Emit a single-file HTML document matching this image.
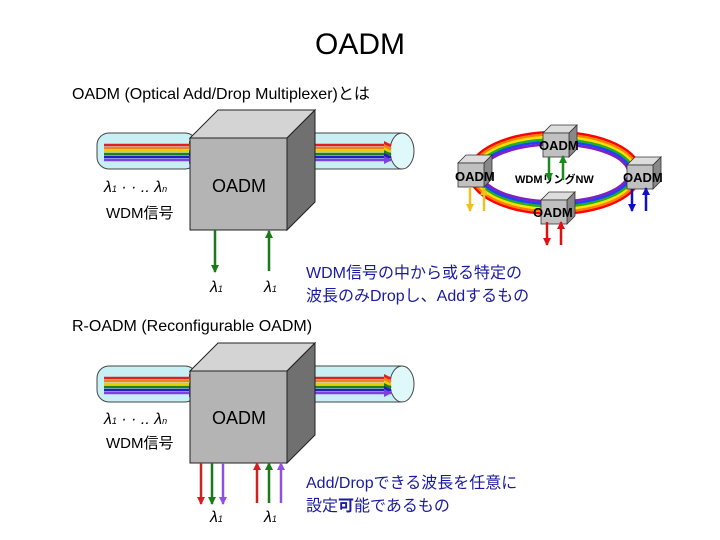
<!DOCTYPE html>
<html><head><meta charset="utf-8"><style>
body{margin:0;background:#fff}
svg{display:block}
text{font-family:"Liberation Sans","Noto Sans CJK JP",sans-serif}
</style></head><body>
<svg width="720" height="540" viewBox="0 0 720 540" xmlns="http://www.w3.org/2000/svg">
<defs>
<marker id="ah" markerWidth="8" markerHeight="8" refX="7" refY="4" orient="auto" markerUnits="userSpaceOnUse"><path d="M0,0 L8,4 L0,8z" fill="context-stroke"/></marker>
<g id="cube">
<polygon points="0,28 97,28 125,0 28,0" fill="#d4d4d4" stroke="#222"/>
<polygon points="97,28 125,0 125,92 97,120" fill="#707070" stroke="#222"/>
<rect x="0" y="28" width="97" height="92" fill="#b4b4b4" stroke="#222"/>
</g>
<g id="sc">
<polygon points="0,8 26,8 34,0 8,0" fill="#ddd" stroke="#333" stroke-width="0.8"/>
<polygon points="26,8 34,0 34,24 26,32" fill="#888" stroke="#333" stroke-width="0.8"/>
<rect x="0" y="8" width="26" height="24" fill="#c0c0c0" stroke="#333" stroke-width="0.8"/>
</g>
</defs>
<text x="360" y="54" font-size="30" text-anchor="middle">OADM</text>
<text x="72" y="99" font-size="16">OADM (Optical Add/Drop Multiplexer)とは</text>

<rect x="97" y="133" width="100" height="36" rx="12" fill="#c8f0f4" stroke="#444"/>
<rect x="290" y="133" width="112" height="36" fill="#c8f0f4" stroke="none"/>
<path d="M302,133 L402,133 M302,169 L402,169" stroke="#444"/>
<ellipse cx="302" cy="151" rx="12" ry="18" fill="#c8f0f4" stroke="#444"/>
<ellipse cx="402" cy="151" rx="12" ry="18" fill="#dff8fa" stroke="#444"/>
<g stroke-width="2.5" marker-end="url(#ah)">
<line x1="104" y1="145" x2="196" y2="145" stroke="#e02020"/><line x1="104" y1="148" x2="196" y2="148" stroke="#f08020"/><line x1="104" y1="151" x2="196" y2="151" stroke="#e8d000"/><line x1="104" y1="154" x2="196" y2="154" stroke="#208020"/><line x1="104" y1="157" x2="196" y2="157" stroke="#2020c0"/><line x1="104" y1="160" x2="196" y2="160" stroke="#8040e0"/>
<line x1="305" y1="145" x2="391" y2="145" stroke="#e02020"/><line x1="305" y1="148" x2="391" y2="148" stroke="#f08020"/><line x1="305" y1="151" x2="391" y2="151" stroke="#e8d000"/><line x1="305" y1="154" x2="391" y2="154" stroke="#208020"/><line x1="305" y1="157" x2="391" y2="157" stroke="#2020c0"/><line x1="305" y1="160" x2="391" y2="160" stroke="#8040e0"/>
</g>
<use href="#cube" x="190" y="110"/>
<text x="239" y="192" font-size="18" text-anchor="middle">OADM</text>
<text x="104" y="192" font-size="16" font-style="italic" font-family="Liberation Serif">λ<tspan font-size="9">1</tspan> · · .. λ<tspan font-size="9">n</tspan></text>
<text x="106" y="218" font-size="15">WDM信号</text>
<g stroke="#1a7a1a" stroke-width="2.5" marker-end="url(#ah)"><line x1="215" y1="230" x2="215" y2="272"/><line x1="269" y1="271" x2="269" y2="231"/></g>
<text x="210" y="292" font-size="16" font-style="italic" font-family="Liberation Serif">λ<tspan font-size="9">1</tspan></text>
<text x="264" y="292" font-size="16" font-style="italic" font-family="Liberation Serif">λ<tspan font-size="9">1</tspan></text>
<text x="306" y="278" font-size="16" fill="#1a1aa0">WDM信号の中から或る特定の</text>
<text x="306" y="301" font-size="16" fill="#1a1aa0">波長のみDropし、Addするもの</text>

<g fill="none" stroke-width="2.6">
<ellipse cx="555" cy="173" rx="86" ry="41" stroke="#ff0000"/>
<ellipse cx="555" cy="173" rx="83.5" ry="38.5" stroke="#ff8000"/>
<ellipse cx="555" cy="173" rx="81" ry="36" stroke="#ffe000"/>
<ellipse cx="555" cy="173" rx="78.5" ry="33.5" stroke="#20b020"/>
<ellipse cx="555" cy="173" rx="76" ry="31" stroke="#2040ff"/>
<ellipse cx="555" cy="173" rx="73.5" ry="28.5" stroke="#8020c0"/>
</g>
<use href="#sc" x="543" y="125"/><use href="#sc" x="458" y="155"/><use href="#sc" x="627" y="157"/><use href="#sc" x="541" y="192"/>
<g font-size="13" font-weight="bold"><text x="539" y="150">OADM</text><text x="455" y="181">OADM</text><text x="623" y="182">OADM</text><text x="533" y="217">OADM</text><text x="515" y="183" font-size="11">WDMリングNW</text></g>
<g stroke-width="2.5" marker-end="url(#ah)">
<line x1="549" y1="157" x2="549" y2="180" stroke="#1a8a1a"/><line x1="563" y1="180" x2="563" y2="156" stroke="#1a8a1a"/>
<line x1="470" y1="188" x2="470" y2="211" stroke="#f0c020"/><line x1="484" y1="211" x2="484" y2="188" stroke="#f0c020"/>
<line x1="632" y1="189" x2="632" y2="211" stroke="#1010c0"/><line x1="646" y1="211" x2="646" y2="188" stroke="#1010c0"/>
<line x1="547" y1="222" x2="547" y2="245" stroke="#e01010"/><line x1="561" y1="245" x2="561" y2="222" stroke="#e01010"/>
</g>

<text x="72" y="331" font-size="16">R-OADM (Reconfigurable OADM)</text>

<rect x="97" y="366" width="100" height="36" rx="12" fill="#c8f0f4" stroke="#444"/>
<rect x="290" y="366" width="112" height="36" fill="#c8f0f4"/>
<path d="M302,366 L402,366 M302,402 L402,402" stroke="#444"/>
<ellipse cx="302" cy="384" rx="12" ry="18" fill="#c8f0f4" stroke="#444"/>
<ellipse cx="402" cy="384" rx="12" ry="18" fill="#dff8fa" stroke="#444"/>
<g stroke-width="2.5" marker-end="url(#ah)">
<line x1="104" y1="378" x2="196" y2="378" stroke="#e02020"/><line x1="104" y1="381" x2="196" y2="381" stroke="#f08020"/><line x1="104" y1="384" x2="196" y2="384" stroke="#e8d000"/><line x1="104" y1="387" x2="196" y2="387" stroke="#208020"/><line x1="104" y1="390" x2="196" y2="390" stroke="#2020c0"/><line x1="104" y1="393" x2="196" y2="393" stroke="#8040e0"/>
<line x1="305" y1="378" x2="391" y2="378" stroke="#e02020"/><line x1="305" y1="381" x2="391" y2="381" stroke="#f08020"/><line x1="305" y1="384" x2="391" y2="384" stroke="#e8d000"/><line x1="305" y1="387" x2="391" y2="387" stroke="#208020"/><line x1="305" y1="390" x2="391" y2="390" stroke="#2020c0"/><line x1="305" y1="393" x2="391" y2="393" stroke="#8040e0"/>
</g>
<use href="#cube" x="190" y="343"/>
<text x="239" y="424" font-size="18" text-anchor="middle">OADM</text>
<text x="104" y="424" font-size="16" font-style="italic" font-family="Liberation Serif">λ<tspan font-size="9">1</tspan> · · .. λ<tspan font-size="9">n</tspan></text>
<text x="106" y="448" font-size="15">WDM信号</text>
<g stroke-width="2.5" marker-end="url(#ah)">
<line x1="201" y1="463" x2="201" y2="504" stroke="#d02020"/><line x1="212" y1="463" x2="212" y2="504" stroke="#1a7a1a"/><line x1="223" y1="463" x2="223" y2="504" stroke="#9050e0"/>
<line x1="257" y1="503" x2="257" y2="463" stroke="#d02020"/><line x1="269" y1="503" x2="269" y2="463" stroke="#1a7a1a"/><line x1="281" y1="503" x2="281" y2="463" stroke="#9050e0"/>
</g>
<text x="210" y="522" font-size="16" font-style="italic" font-family="Liberation Serif">λ<tspan font-size="9">1</tspan></text>
<text x="264" y="522" font-size="16" font-style="italic" font-family="Liberation Serif">λ<tspan font-size="9">1</tspan></text>
<text x="306" y="488" font-size="16" fill="#1a1aa0">Add/Dropできる波長を任意に</text>
<text x="306" y="511" font-size="16" fill="#1a1aa0">設定<tspan font-weight="bold">可</tspan>能であるもの</text>
</svg>
</body></html>
